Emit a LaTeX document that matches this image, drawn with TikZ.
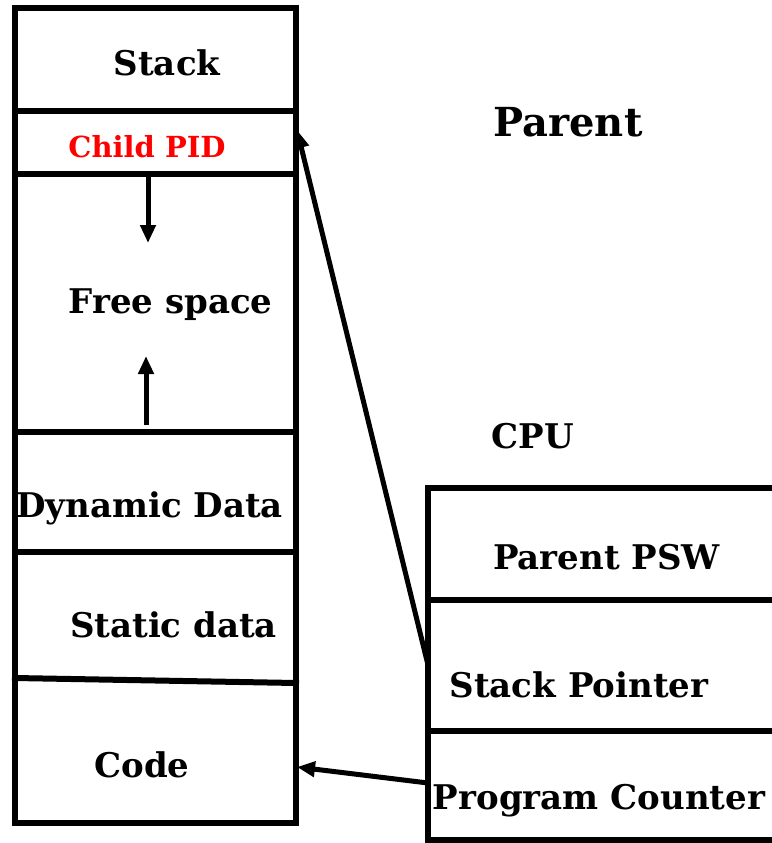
\documentclass[tikz,border=0pt]{standalone}
\usepackage{fontspec}
\setmainfont{DejaVu Serif}
\usetikzlibrary{arrows.meta}
\begin{document}
\begin{tikzpicture}[x=1pt,y=-1pt,
  frame/.style={line width=6pt, line cap=rect},
  lbl/.style={font=\bfseries\fontsize{34}{36}\selectfont, inner sep=0pt, anchor=base},
  small/.style={font=\bfseries\fontsize{29}{31}\selectfont, inner sep=0pt, anchor=base, text=red},
  big/.style={font=\bfseries\fontsize{40}{42}\selectfont, inner sep=0pt, anchor=base},
  conn/.style={line width=5pt, -{Triangle[length=18pt,width=15pt]}}]
\useasboundingbox (0,0) rectangle (771,843);
% memory layout (left column)
\draw[frame] (15,8) rectangle (296,823);
\draw[frame] (15,111) -- (296,111);
\draw[frame] (15,174) -- (296,174);
\draw[frame] (15,432) -- (296,432);
\draw[frame] (15,552) -- (296,552);
\draw[frame] (15,678) -- (296,683);
% CPU registers (right column)
\draw[frame] (775,488) -- (428,488) -- (428,840) -- (775,840);
\draw[frame] (428,600) -- (775,600);
\draw[frame] (428,731) -- (775,731);
% labels
\node[lbl] (stack) at (167,76) {Stack};
\node[small] (pid) at (147,157) {Child PID};
\node[lbl] (free) at (170.5,313) {Free space};
\node[lbl] (dyn) at (149.5,517) {Dynamic Data};
\node[lbl] (stat) at (173.5,637) {Static data};
\node[lbl] (code) at (142,777) {Code};
\node[big] (parent) at (568,136) {Parent};
\node[lbl] (cpu) at (533,448) {CPU};
\node[lbl] (psw) at (606.5,569) {Parent PSW};
\node[lbl] (sp) at (579,697) {Stack Pointer};
\node[lbl] (pc) at (599,809) {Program Counter};
% connector endpoints
\coordinate (pidR) at (297,130);
\coordinate (spL) at (428,665);
\coordinate (codeR) at (297,767);
\coordinate (pcL) at (428,783);
\coordinate (downA) at (148,174);
\coordinate (downB) at (148,243);
\coordinate (upA) at (146,425);
\coordinate (upB) at (146,356);
% connectors
\draw[conn] (spL) -- (pidR);
\draw[conn] (pcL) -- (codeR);
\draw[conn] (downA) -- (downB);
\draw[conn] (upA) -- (upB);
\end{tikzpicture}
\end{document}
